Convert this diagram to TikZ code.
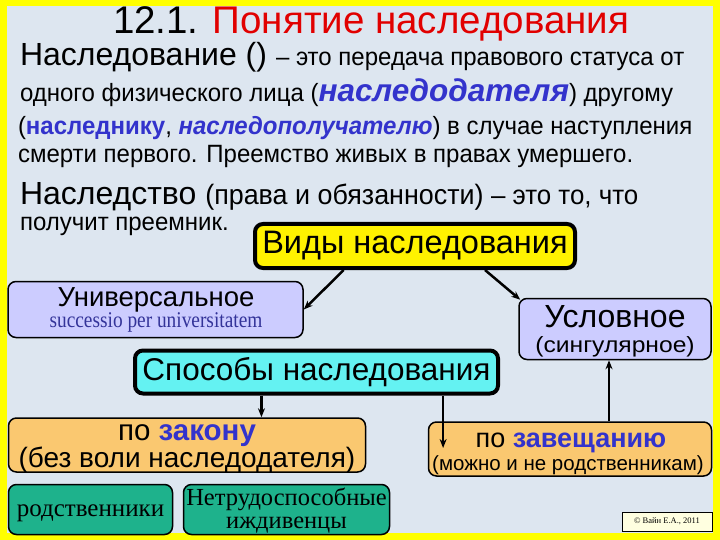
\documentclass[tikz,border=0pt]{standalone}
\usepackage{fontspec}
\setmainfont{Liberation Sans}
\newfontfamily\nrw[FakeStretch=0.96]{Liberation Sans}
\newfontfamily\wdf[FakeStretch=1.12]{Liberation Sans}
\newfontfamily\srf{Liberation Serif}
\newfontfamily\srfn[FakeStretch=0.86]{Liberation Serif}
\usetikzlibrary{arrows.meta,calc}
\definecolor{bgc}{RGB}{221,230,240}
\definecolor{framey}{RGB}{255,255,0}
\definecolor{titred}{RGB}{225,0,0}
\definecolor{blu}{RGB}{51,51,204}
\definecolor{navy}{RGB}{51,51,153}
\definecolor{lav}{RGB}{204,204,255}
\definecolor{cyanb}{RGB}{100,242,242}
\definecolor{orng}{RGB}{250,200,112}
\definecolor{grn}{RGB}{30,178,140}
\definecolor{cpy}{RGB}{255,255,224}
\newcommand{\fs}[1]{\fontsize{#1}{#1}\selectfont}
\tikzset{
  txt/.style={anchor=base west,inner sep=0pt,outer sep=0pt},
  txtc/.style={anchor=base,inner sep=0pt,outer sep=0pt},
  box/.style={draw=black,rounded corners=8pt,line width=1.5pt,inner sep=0pt},
  bigbox/.style={box,line width=4pt},
  arr/.style={line width=2.5pt,-{Stealth[length=9pt,width=7pt]}}
}
\begin{document}
\begin{tikzpicture}[x=1pt,y=-1pt]
\useasboundingbox (0,0) rectangle (720,540);
\fill[framey] (0,0) rectangle (720,540);
\fill[bgc] (7,6) rectangle (713,533);
% heading text
\node[txt] (title) at (113,34) {\fs{38.5}12.1. \textcolor{titred}{Понятие наследования}};
\node[txt] (l1) at (20,66) {\fs{32}Наследование ()\ \nrw\fs{25}– это передача правового статуса от};
\node[txt] (l2) at (20,102) {\nrw\fs{25}одного физического лица (\textcolor{blu}{\normalfont\fs{31.5}\bfseries\itshape наследодателя}) другому};
\node[txt] (l3) at (18,135) {\nrw\fs{25}(\textcolor{blu}{\bfseries наследнику}, \textcolor{blu}{\bfseries\itshape наследополучателю}) в случае наступления};
\node[txt] (l4) at (18,163) {\nrw\fs{25}смерти первого. Преемство живых в правах умершего.};
\node[txt] (l5) at (20,205) {\fs{32}Наследство \nrw\fs{28}(права и обязанности) \fs{27}– это то, что};
\node[txt] (l6) at (20,230) {\nrw\fs{25}получит преемник.};
% boxes
\node[bigbox,fill=yellow,minimum width=320pt,minimum height=44pt] (vidy) at (415,246) {\fs{32.5}Виды наследования};
\node[box,fill=lav,minimum width=295pt,minimum height=56pt] (univ) at (155.5,309.5) {};
\node[txtc] (univa) at (156,306) {\fs{27.5}Универсальное};
\node[txtc] (univb) at (156,327) {\srfn\fs{22.5}\textcolor{navy}{successio per universitatem}};
\node[box,fill=lav,minimum width=192pt,minimum height=61pt] (usl) at (615,329) {};
\node[txtc] (usla) at (615,327) {\fs{32}Условное};
\node[txtc] (uslb) at (615,352) {\wdf\fs{22}(сингулярное)};
\node[bigbox,fill=cyanb,minimum width=363pt,minimum height=43pt] (spos) at (316.5,372) {\fs{31.5}Способы наследования};
\node[box,fill=orng,minimum width=357pt,minimum height=54pt] (zakon) at (187,445) {};
\node[txtc] (zakona) at (187,440) {\fs{29.5}по \textcolor{blu}{\bfseries закону}};
\node[txtc] (zakonb) at (187,467) {\fs{28}(без воли наследодателя)};
\node[box,fill=orng,minimum width=283pt,minimum height=54pt] (zav) at (570,449) {};
\node[txtc] (zava) at (571,447) {\fs{27}по \textcolor{blu}{\bfseries завещанию}};
\node[txtc] (zavb) at (568,470) {\fs{20.5}(можно и не родственникам)};
\node[box,fill=grn,minimum width=164pt,minimum height=50pt] (rod) at (90.5,509.5) {};
\node[txtc] (roda) at (90.5,516) {\srf\fs{25}родственники};
\node[box,fill=grn,minimum width=206pt,minimum height=50pt] (netr) at (286.5,509.5) {};
\node[txtc] (netra) at (286.5,505) {\srf\fs{24.5}Нетрудоспособные};
\node[txtc] (netrb) at (286.5,528) {\srf\fs{24.5}иждивенцы};
\node[draw=black,line width=0.6pt,fill=cpy,minimum width=90pt,minimum height=19pt,inner sep=0pt] (copy) at (667,521.5) {\srf\fs{8.5}© Вайн Е.А., 2011};
% arrows
\coordinate (zvin) at (443,448);
\draw[arr] ($(vidy.south west)!0.28!(vidy.south east)$) -- (univ.east);
\draw[arr] ($(vidy.south west)!0.716!(vidy.south east)$) -- ($(usl.north west)+(2,2)$);
\coordinate (s1) at ($(spos.south west)!0.35!(spos.south east)$);
\draw[arr] (s1) -- (s1 |- zakon.north);
\coordinate (s2) at ($(spos.south west)!0.845!(spos.south east)$);
\draw[arr] (s2) -- (s2 |- zvin);
\coordinate (z1) at (609,0);
\draw[arr] (z1 |- zav.north) -- (z1 |- usl.south);
\end{tikzpicture}
\end{document}
